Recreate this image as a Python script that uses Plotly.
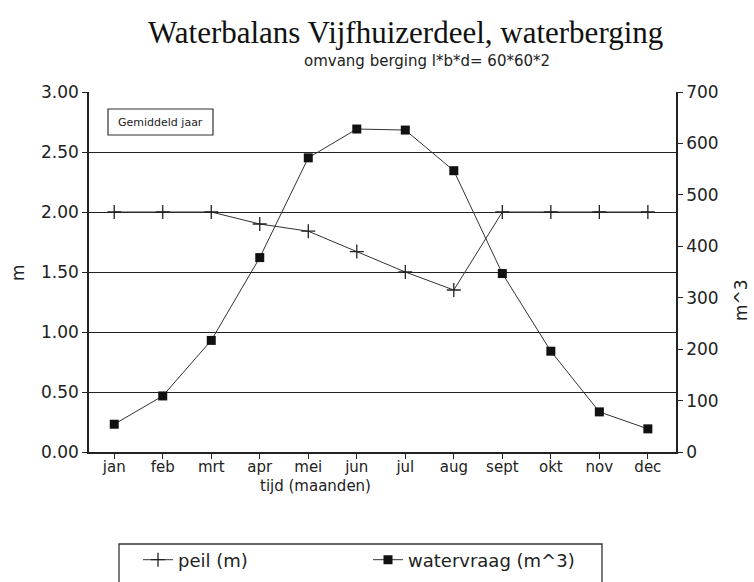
import plotly.graph_objects as go

months = ["jan", "feb", "mrt", "apr", "mei", "jun", "jul", "aug", "sept", "okt", "nov", "dec"]
peil = [2.00, 2.00, 2.00, 1.90, 1.84, 1.67, 1.50, 1.35, 2.00, 2.00, 2.00, 2.00]
watervraag = [54, 109, 217, 378, 572, 628, 626, 547, 347, 196, 78, 45]

left_ticks = [0, 0.5, 1.0, 1.5, 2.0, 2.5, 3.0]
right_ticks = [0, 100, 200, 300, 400, 500, 600, 700]

FONT = "DejaVu Sans"
L, R, T, B = 89, 676, 92, 452
W, H = R - L, B - T

def px(x):
    return (x - L) / W

def py(y):
    return (B - y) / H

fig = go.Figure()
fig.add_trace(go.Scatter(
    x=months, y=peil, name="peil (m)", mode="lines+markers",
    line=dict(color="#333", width=1),
    marker=dict(symbol="cross-thin", size=10, line=dict(color="#222", width=1.3)),
))
fig.add_trace(go.Scatter(
    x=months, y=watervraag, name="watervraag (m^3)", mode="lines+markers", yaxis="y2",
    line=dict(color="#333", width=1),
    marker=dict(symbol="square", size=9, color="#111"),
))

fig.update_layout(
    width=754, height=582,
    margin=dict(l=L, r=754 - R, t=T, b=582 - B, autoexpand=False),
    paper_bgcolor="white", plot_bgcolor="white",
    font=dict(family=FONT, color="#222", size=14),
    showlegend=True,
    legend=dict(orientation="h", x=px(138), y=py(560), xanchor="left", yanchor="middle",
                bgcolor="rgba(0,0,0,0)", borderwidth=0, font=dict(size=18, family=FONT),
                entrywidth=185, entrywidthmode="pixels"),
    xaxis=dict(type="category", range=[-0.52, 11.58], showgrid=False,
               showline=True, linecolor="#222", linewidth=1.5,
               ticks="outside", ticklen=5, tickcolor="#222", tickwidth=1.3,
               tickfont=dict(size=15), ticklabelstandoff=-5, zeroline=False),
    yaxis=dict(range=[0, 3.0], tickvals=left_ticks, tickformat=".2f",
               showgrid=True, gridcolor="#222", gridwidth=1.3,
               showline=True, linecolor="#222", linewidth=1.5,
               ticks="outside", ticklen=5, tickcolor="#222", tickwidth=1.3,
               tickfont=dict(size=17), zeroline=False),
    yaxis2=dict(range=[0, 700], tickvals=right_ticks, overlaying="y", side="right",
                showgrid=False, showline=True, linecolor="#222", linewidth=1.5,
                ticks="outside", ticklen=5, tickcolor="#222", tickwidth=1.3,
                tickfont=dict(size=17), zeroline=False),
    shapes=[
        dict(type="rect", xref="paper", yref="paper", x0=px(108), x1=px(213),
             y0=py(135), y1=py(109), line=dict(color="#333", width=1.2)),
        dict(type="rect", xref="paper", yref="paper", x0=px(119), x1=px(602),
             y0=py(600), y1=py(544), line=dict(color="#333", width=1.3)),
    ],
    annotations=[
        dict(text="Waterbalans Vijfhuizerdeel, waterberging", xref="paper", yref="paper",
             x=px(405), y=py(33), showarrow=False, xanchor="center", yanchor="middle",
             font=dict(family="Liberation Serif", size=31, color="#111")),
        dict(text="omvang berging l*b*d= 60*60*2", xref="paper", yref="paper",
             x=px(427), y=py(61), showarrow=False, xanchor="center", yanchor="middle",
             font=dict(family=FONT, size=15, color="#222")),
        dict(text="Gemiddeld jaar", xref="paper", yref="paper",
             x=px(160), y=py(122), showarrow=False, xanchor="center", yanchor="middle",
             font=dict(family=FONT, size=11, color="#222")),
        dict(text="tijd (maanden)", xref="paper", yref="paper",
             x=px(315), y=py(486), showarrow=False, xanchor="center", yanchor="middle",
             font=dict(family=FONT, size=15, color="#222")),
        dict(text="m", xref="paper", yref="paper", textangle=-90,
             x=px(18), y=py(273), showarrow=False, xanchor="center", yanchor="middle",
             font=dict(family=FONT, size=17, color="#222")),
        dict(text="m^3", xref="paper", yref="paper", textangle=-90,
             x=px(741), y=py(300), showarrow=False, xanchor="center", yanchor="middle",
             font=dict(family=FONT, size=17, color="#222")),
    ],
)

fig.write_html("out.html", config={"displayModeBar": False},
               post_script="document.body.style.margin='0';")
